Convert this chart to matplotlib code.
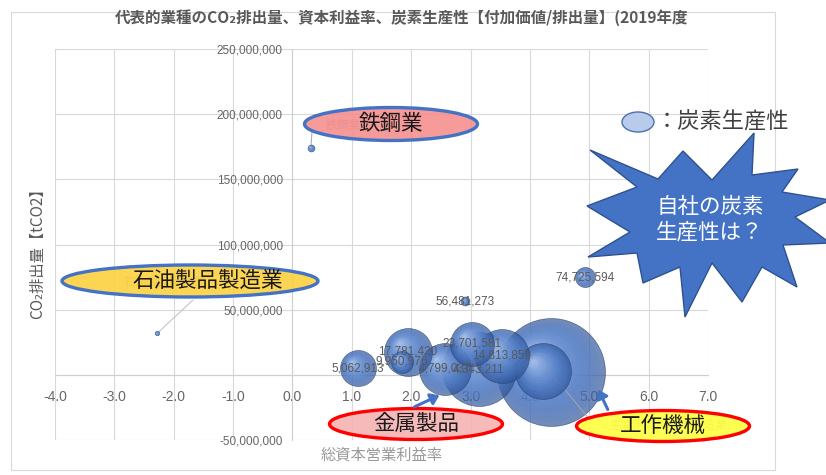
import numpy as np
import matplotlib
matplotlib.use('Agg')
import matplotlib.pyplot as plt
import matplotlib.colors as mcolors
from matplotlib.patches import Ellipse, Polygon, Rectangle, FancyArrowPatch
from matplotlib.transforms import offset_copy
from matplotlib.ticker import FuncFormatter

JP = ['Noto Sans CJK JP', 'DejaVu Sans']
plt.rcParams['font.family'] = JP

# ---------------- data ----------------
title = '代表的業種のCO₂排出量、資本利益率、炭素生産性【付加価値/排出量】(2019年度'
x_title = '総資本営業利益率'
y_title = 'CO₂排出量【tCO2】'

# 総資本営業利益率 (x), CO2排出量 (y), 炭素生産性 (bubble size, relative)
profit_rate = [-2.28, 0.31, 2.90, 4.92, 1.10, 1.84, 1.94, 2.57, 3.02, 3.53, 3.14, 4.35, 4.22]
co2_emission = [31.8e6, 174.0e6, 56481273, 74725594, 5062913, 9950976, 17781420,
                4799037, 23701581, 14813859, 4343211, 2.0e6, 2.7e6]
carbon_productivity = [5, 12, 20, 100, 324, 121, 576, 676, 484, 729, 1369, 2916, 784]
point_labels = ['', '', '56,481,273', '74,725,594', '5,062,913', '9,950,976', '17,781,420',
                '4,799,037', '23,701,581', '14,813,859', '4,343,211', '', '']

x_ticks = [-4.0, -3.0, -2.0, -1.0, 0.0, 1.0, 2.0, 3.0, 4.0, 5.0, 6.0, 7.0]
y_ticks = [-50e6, 0, 50e6, 100e6, 150e6, 200e6, 250e6]

# ---------------- figure ----------------
W, H = 826, 475
fig = plt.figure(figsize=(W / 100, H / 100), dpi=100)
fig.patch.set_facecolor('white')


def fx(px):
    return px / W


def fy(py):
    return 1 - py / H


ax = fig.add_axes([fx(55), fy(440), fx(708) - fx(55), fy(49) - fy(440)])
ax.set_xlim(x_ticks[0], x_ticks[-1])
ax.set_ylim(y_ticks[0], y_ticks[-1])
ax.set_xticks(x_ticks)
ax.set_yticks(y_ticks)
ax.xaxis.set_major_formatter(FuncFormatter(lambda v, p: f'{v:.1f}'))
ax.yaxis.set_major_formatter(FuncFormatter(lambda v, p: '' if v == 0 else f'{int(v):,}'))
ax.grid(True, color='#D9D9D9', lw=0.8, zorder=0)
ax.set_axisbelow(True)
for s in ['top', 'right']:
    ax.spines[s].set_visible(False)
ax.spines['left'].set_position(('data', 0))
ax.spines['bottom'].set_position(('data', 0))
for s in ['left', 'bottom']:
    ax.spines[s].set_color('#D0D0D0')
    ax.spines[s].set_linewidth(0.8)
ax.tick_params(axis='both', length=0, colors='#666666')
ax.tick_params(axis='x', labelsize=10, pad=11)
ax.tick_params(axis='y', labelsize=8.5, pad=7)
for lab in ax.get_xticklabels() + ax.get_yticklabels():
    lab.set_family(['Liberation Sans', 'DejaVu Sans'])

# ---------------- bubbles ----------------
base_col = np.array(mcolors.to_rgb('#2F5597'))
mid_col = np.array(mcolors.to_rgb('#4F7FD0'))
light_col = np.array(mcolors.to_rgb('#D6E4FA'))


def sphere(x, y, size, z):
    s = 2.07 * size
    r = np.sqrt(s) / 2
    ax.scatter([x], [y], s=s, color=base_col, alpha=0.68, lw=0.5,
               edgecolors=[(0.15, 0.25, 0.45, 0.5)], zorder=z)
    N = 16
    for i in range(1, N):
        f = 1 - i / N
        t = (i / N) ** 1.3
        col = mid_col * (1 - t) + light_col * t
        tr = offset_copy(ax.transData, fig=fig, x=-0.38 * r * (1 - f),
                         y=0.38 * r * (1 - f), units='points')
        ax.scatter([x], [y], s=s * f * f, color=col, alpha=0.2, lw=0,
                   transform=tr, zorder=z)


order = np.argsort(carbon_productivity)[::-1]
for k, i in enumerate(order):
    sphere(profit_rate[i], co2_emission[i], carbon_productivity[i], 3 + k * 0.01)

for i, lab in enumerate(point_labels):
    if lab:
        ax.text(profit_rate[i], co2_emission[i], lab, ha='center', va='center',
                fontsize=8.5, color='#595959', zorder=6,
                family=['Liberation Sans', 'DejaVu Sans'])

# hidden data labels behind the callouts, with leader lines
faint = dict(color='#A0A0A0', fontsize=8.5, zorder=6)
ax.annotate('', xy=(profit_rate[1], co2_emission[1]), xytext=(312, H - 132),
            textcoords='figure pixels',
            arrowprops=dict(arrowstyle='-', color='#A6A6A6', lw=0.7, shrinkA=0, shrinkB=2))
ax.annotate('鉄鋼業', xy=(profit_rate[1], co2_emission[1]), xytext=(343, H - 126),
            textcoords='figure pixels', ha='center', va='center', **faint)
ax.annotate('', xy=(profit_rate[0], co2_emission[0]), xytext=(193, H - 300),
            textcoords='figure pixels',
            arrowprops=dict(arrowstyle='-', color='#BFBFBF', lw=0.7, shrinkA=0, shrinkB=2))
ax.annotate('石油製品製造業', xy=(profit_rate[0], co2_emission[0]), xytext=(165, H - 282),
            textcoords='figure pixels', ha='center', va='center', **faint)
ax.annotate('', xy=(profit_rate[11], co2_emission[11]), xytext=(590, H - 420),
            textcoords='figure pixels',
            arrowprops=dict(arrowstyle='-', color='#A6A6A6', lw=0.7, shrinkA=0, shrinkB=0))
ax.annotate('生産用機械器具製造業', xy=(profit_rate[11], co2_emission[11]), xytext=(668, H - 425),
            textcoords='figure pixels', ha='center', va='center', **faint)

# ---------------- titles ----------------
fig.text(fx(402), fy(18), title, ha='center', va='center', fontsize=11.2,
         weight='bold', color='#595959')
fig.text(fx(382), fy(455), x_title, ha='center', va='center', fontsize=11, color='#999999')
fig.text(fx(38), fy(250), y_title, ha='center', va='center', fontsize=11, color='#595959',
         rotation=90)

# chart frame
fig.add_artist(Rectangle((fx(11), fy(470)), fx(775) - fx(11), fy(12) - fy(470),
                         transform=fig.transFigure, fill=False, ec='#D9D9D9', lw=0.8, zorder=0.5))


# ---------------- callouts ----------------
def callout(cx, cy, w, h, fc, ec, text, tx=None):
    fig.add_artist(Ellipse((fx(cx), fy(cy)), w / W, h / H, transform=fig.transFigure,
                           fc=fc, ec=ec, lw=2.4, zorder=2))
    fig.text(fx(tx if tx else cx), fy(cy), text, ha='center', va='center', fontsize=15.5,
             color='#1A1A1A', zorder=3)


callout(391, 124, 173, 33, (0.96, 0.55, 0.55, 0.88), '#4472C4', '鉄鋼業')
callout(190, 281, 256, 32, (0.99, 0.82, 0.25, 0.9), '#4472C4', '石油製品製造業', tx=208)
callout(416, 424, 173, 31, (0.97, 0.70, 0.70, 0.9), '#FF0000', '金属製品')
callout(663, 426, 173, 31, (1.0, 1.0, 0.25, 0.9), '#FF0000', '工作機械')


def arrow(x0, y0, x1, y1):
    fig.add_artist(FancyArrowPatch((fx(x0), fy(y0)), (fx(x1), fy(y1)), transform=fig.transFigure,
                                   arrowstyle='-|>,head_length=5,head_width=3.5',
                                   color='#4472C4', lw=2.2, zorder=2.5))


arrow(412, 408, 442, 394)
arrow(609, 412, 597, 387)

# legend marker
fig.add_artist(Ellipse((fx(638), fy(122)), 32 / W, 20 / H, transform=fig.transFigure,
                       fc='#B8CBEA', ec='#4A6FB0', lw=1.0, zorder=2))
fig.text(fx(656), fy(122), '：炭素生産性', ha='left', va='center', fontsize=16,
         color='#404040', zorder=3)

# starburst
star_px = [(590, 150), (658, 179), (683, 151), (712, 180), (754, 133), (752, 175),
           (798, 169), (782, 192), (830, 200), (795, 217), (830, 243), (783, 245),
           (797, 287), (762, 267), (742, 302), (712, 263), (685, 317), (680, 267),
           (643, 283), (637, 253), (588, 257), (630, 232), (587, 206), (637, 187)]
fig.add_artist(Polygon([(fx(a), fy(b)) for a, b in star_px], closed=True,
                       transform=fig.transFigure, fc='#4472C4', ec='#2F528F', lw=1.0,
                       zorder=2))
fig.text(fx(710), fy(220), '自社の炭素\n生産性は？', ha='center', va='center', fontsize=15.5,
         color='white', linespacing=1.2, zorder=3)

fig.savefig('out.png', dpi=100)
